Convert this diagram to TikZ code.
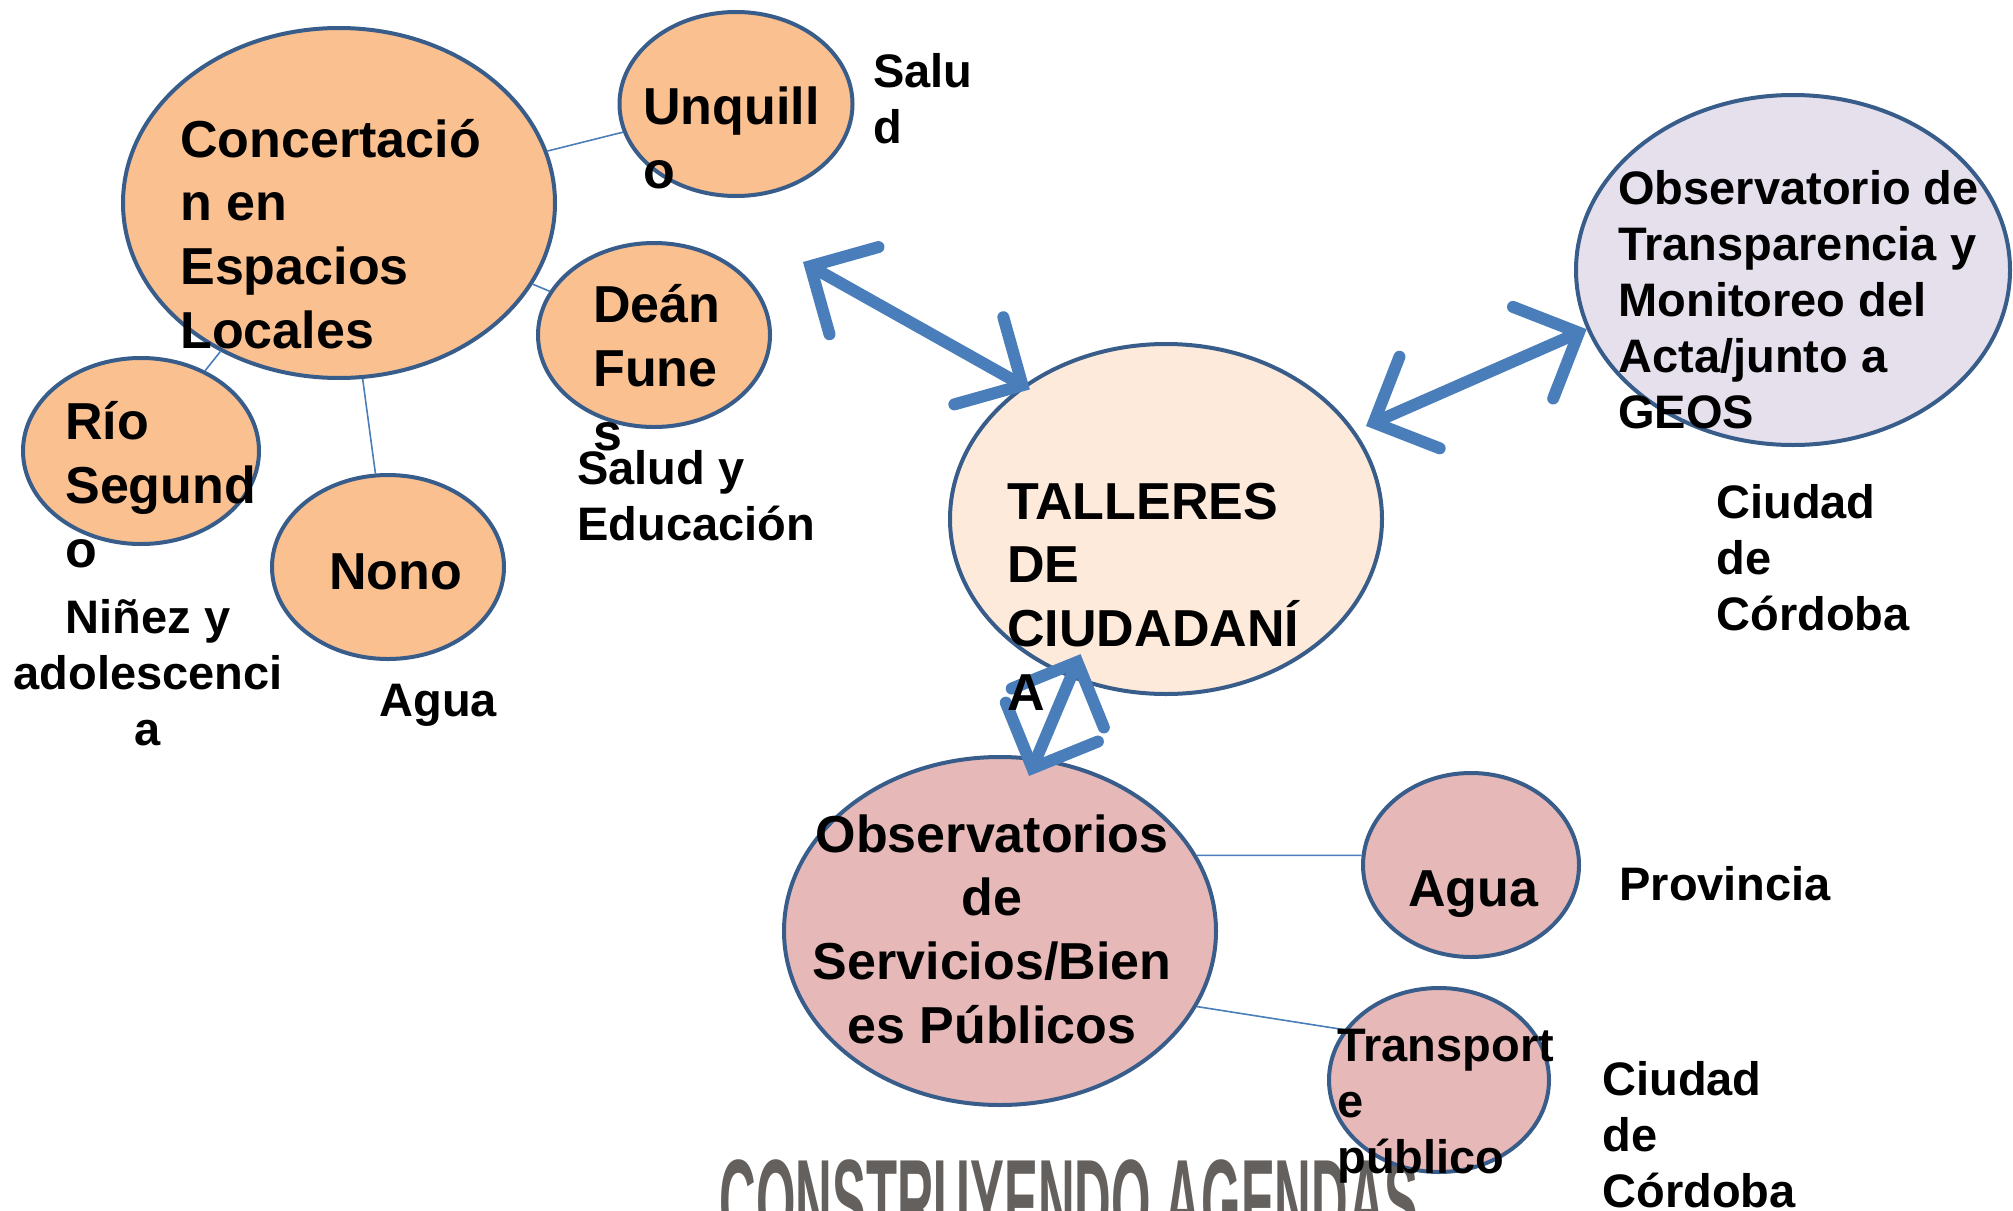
\documentclass[tikz,border=0pt]{standalone}
\usepackage{fontspec}
\setmainfont{Liberation Sans}
\usetikzlibrary{shapes.geometric,arrows.meta}
\definecolor{rim}{HTML}{385D8A}
\definecolor{orangefill}{HTML}{FAC090}
\definecolor{tallerfill}{HTML}{FDEADA}
\definecolor{lilafill}{HTML}{E6E0EC}
\definecolor{rosafill}{HTML}{E6B9B8}
\definecolor{flecha}{HTML}{4A7EBB}
\definecolor{marcagris}{HTML}{64605D}

\begin{document}
\begin{tikzpicture}[x=0.5pt, y=-0.5pt,
	bubble/.style={ellipse, draw=rim, line width=2pt, inner sep=0pt},
	bigtext/.style={font=\fontsize{26}{31.8}\selectfont\bfseries, inner sep=0pt, align=left, anchor=base west},
	smalltext/.style={font=\fontsize{23.5}{28}\selectfont\bfseries, inner sep=0pt, align=left, anchor=base west},
	link/.style={draw=flecha, line width=0.8pt},
	twoway/.style={draw=flecha, line width=6pt, <->},
	>={Straight Barb[length=25pt,width=50pt,line cap=round,line join=miter]}]
		\useasboundingbox (0,0) rectangle (2013,1210);
		\clip (0,0) rectangle (2013,1210);

		\node[anchor=north west, inner sep=0pt, text=marcagris, font=\fontsize{60}{60}\selectfont\bfseries] (marca) at (719,1159) {\scalebox{0.423}[1]{CONSTRUYENDO AGENDAS}};

		\draw (339,203) node[bubble, fill=orangefill, minimum width=216pt, minimum height=175pt] (conc) {};
		\draw (736,104) node[bubble, fill=orangefill, minimum width=116.5pt, minimum height=92pt] (unq) {};
		\draw (654,335) node[bubble, fill=orangefill, minimum width=116pt, minimum height=92pt] (dean) {};
		\draw (141,451) node[bubble, fill=orangefill, minimum width=118pt, minimum height=93pt] (rio) {};
		\draw (388,567) node[bubble, fill=orangefill, minimum width=116pt, minimum height=92pt] (nono) {};

		\draw (1166,519) node[bubble, fill=tallerfill, minimum width=216pt, minimum height=175pt] (tall) {};
		\draw (1793,270) node[bubble, fill=lilafill, minimum width=217pt, minimum height=175pt] (obs) {};

		\draw (1000,931) node[bubble, fill=rosafill, minimum width=216pt, minimum height=174pt] (serv) {};
		\draw (1471,865) node[bubble, fill=rosafill, minimum width=108pt, minimum height=92pt] (agua) {};
		\draw (1439,1080) node[bubble, fill=rosafill, minimum width=110pt, minimum height=92pt] (trans) {};

		\draw[link] (conc) -- (unq);
		\draw[link] (conc) -- (dean);
		\draw[link] (conc) -- (rio);
		\draw[link] (conc) -- (nono);
		\draw[link] (serv.21) -- (agua.175);
		\draw[link] (serv.-21) -- (trans.152);

		\coordinate (free) at (803,262);
		\draw[twoway, shorten >=-4pt] (free) -- (tall.137.6);
		\draw[twoway, shorten <=6pt] (tall.25) -- (obs.196);
		\draw[twoway, shorten <=-13pt, shorten >=-10pt] (tall.-121) -- (serv.78);

		\node[bigtext] (concT) at (180,348) {Concertació\\n en\\Espacios\\Locales};
		\node[bigtext] (unqT) at (643,188) {Unquill\\o};
		\node[smalltext] (unqS) at (873,143) {Salu\\d};
		\node[bigtext] (deanT) at (593,450) {Deán\\Fune\\s};
		\node[smalltext] (deanS) at (577,540) {Salud y\\Educación};
		\node[bigtext] (rioT) at (65,567) {Río\\Segund\\o};
		\node[smalltext, align=center, anchor=base] (rioS) at (148,745) {Niñez y\\adolescenci\\a};
		\node[bigtext] (nonoT) at (329,589) {Nono};
		\node[smalltext] (nonoS) at (379,716) {Agua};
		\node[bigtext] (tallT) at (1007,710) {TALLERES\\DE\\CIUDADANÍ\\A};
		\node[smalltext] (obsT) at (1618,428) {Observatorio de\\Transparencia y\\Monitoreo del\\Acta/junto a\\GEOS};
		\node[smalltext] (obsS) at (1716,630) {Ciudad\\de\\Córdoba};
		\node[bigtext, align=center, anchor=base] (servT) at (992,1043) {Observatorios\\de\\Servicios/Bien\\es Públicos};
		\node[bigtext] (aguaT) at (1408,906) {Agua};
		\node[smalltext] (aguaS) at (1619,900) {Provincia};
		\node[smalltext] (transT) at (1337,1173) {Transport\\e\\público};
		\node[smalltext] (transS) at (1602,1207) {Ciudad\\de\\Córdoba};
	\end{tikzpicture}
\end{document}
